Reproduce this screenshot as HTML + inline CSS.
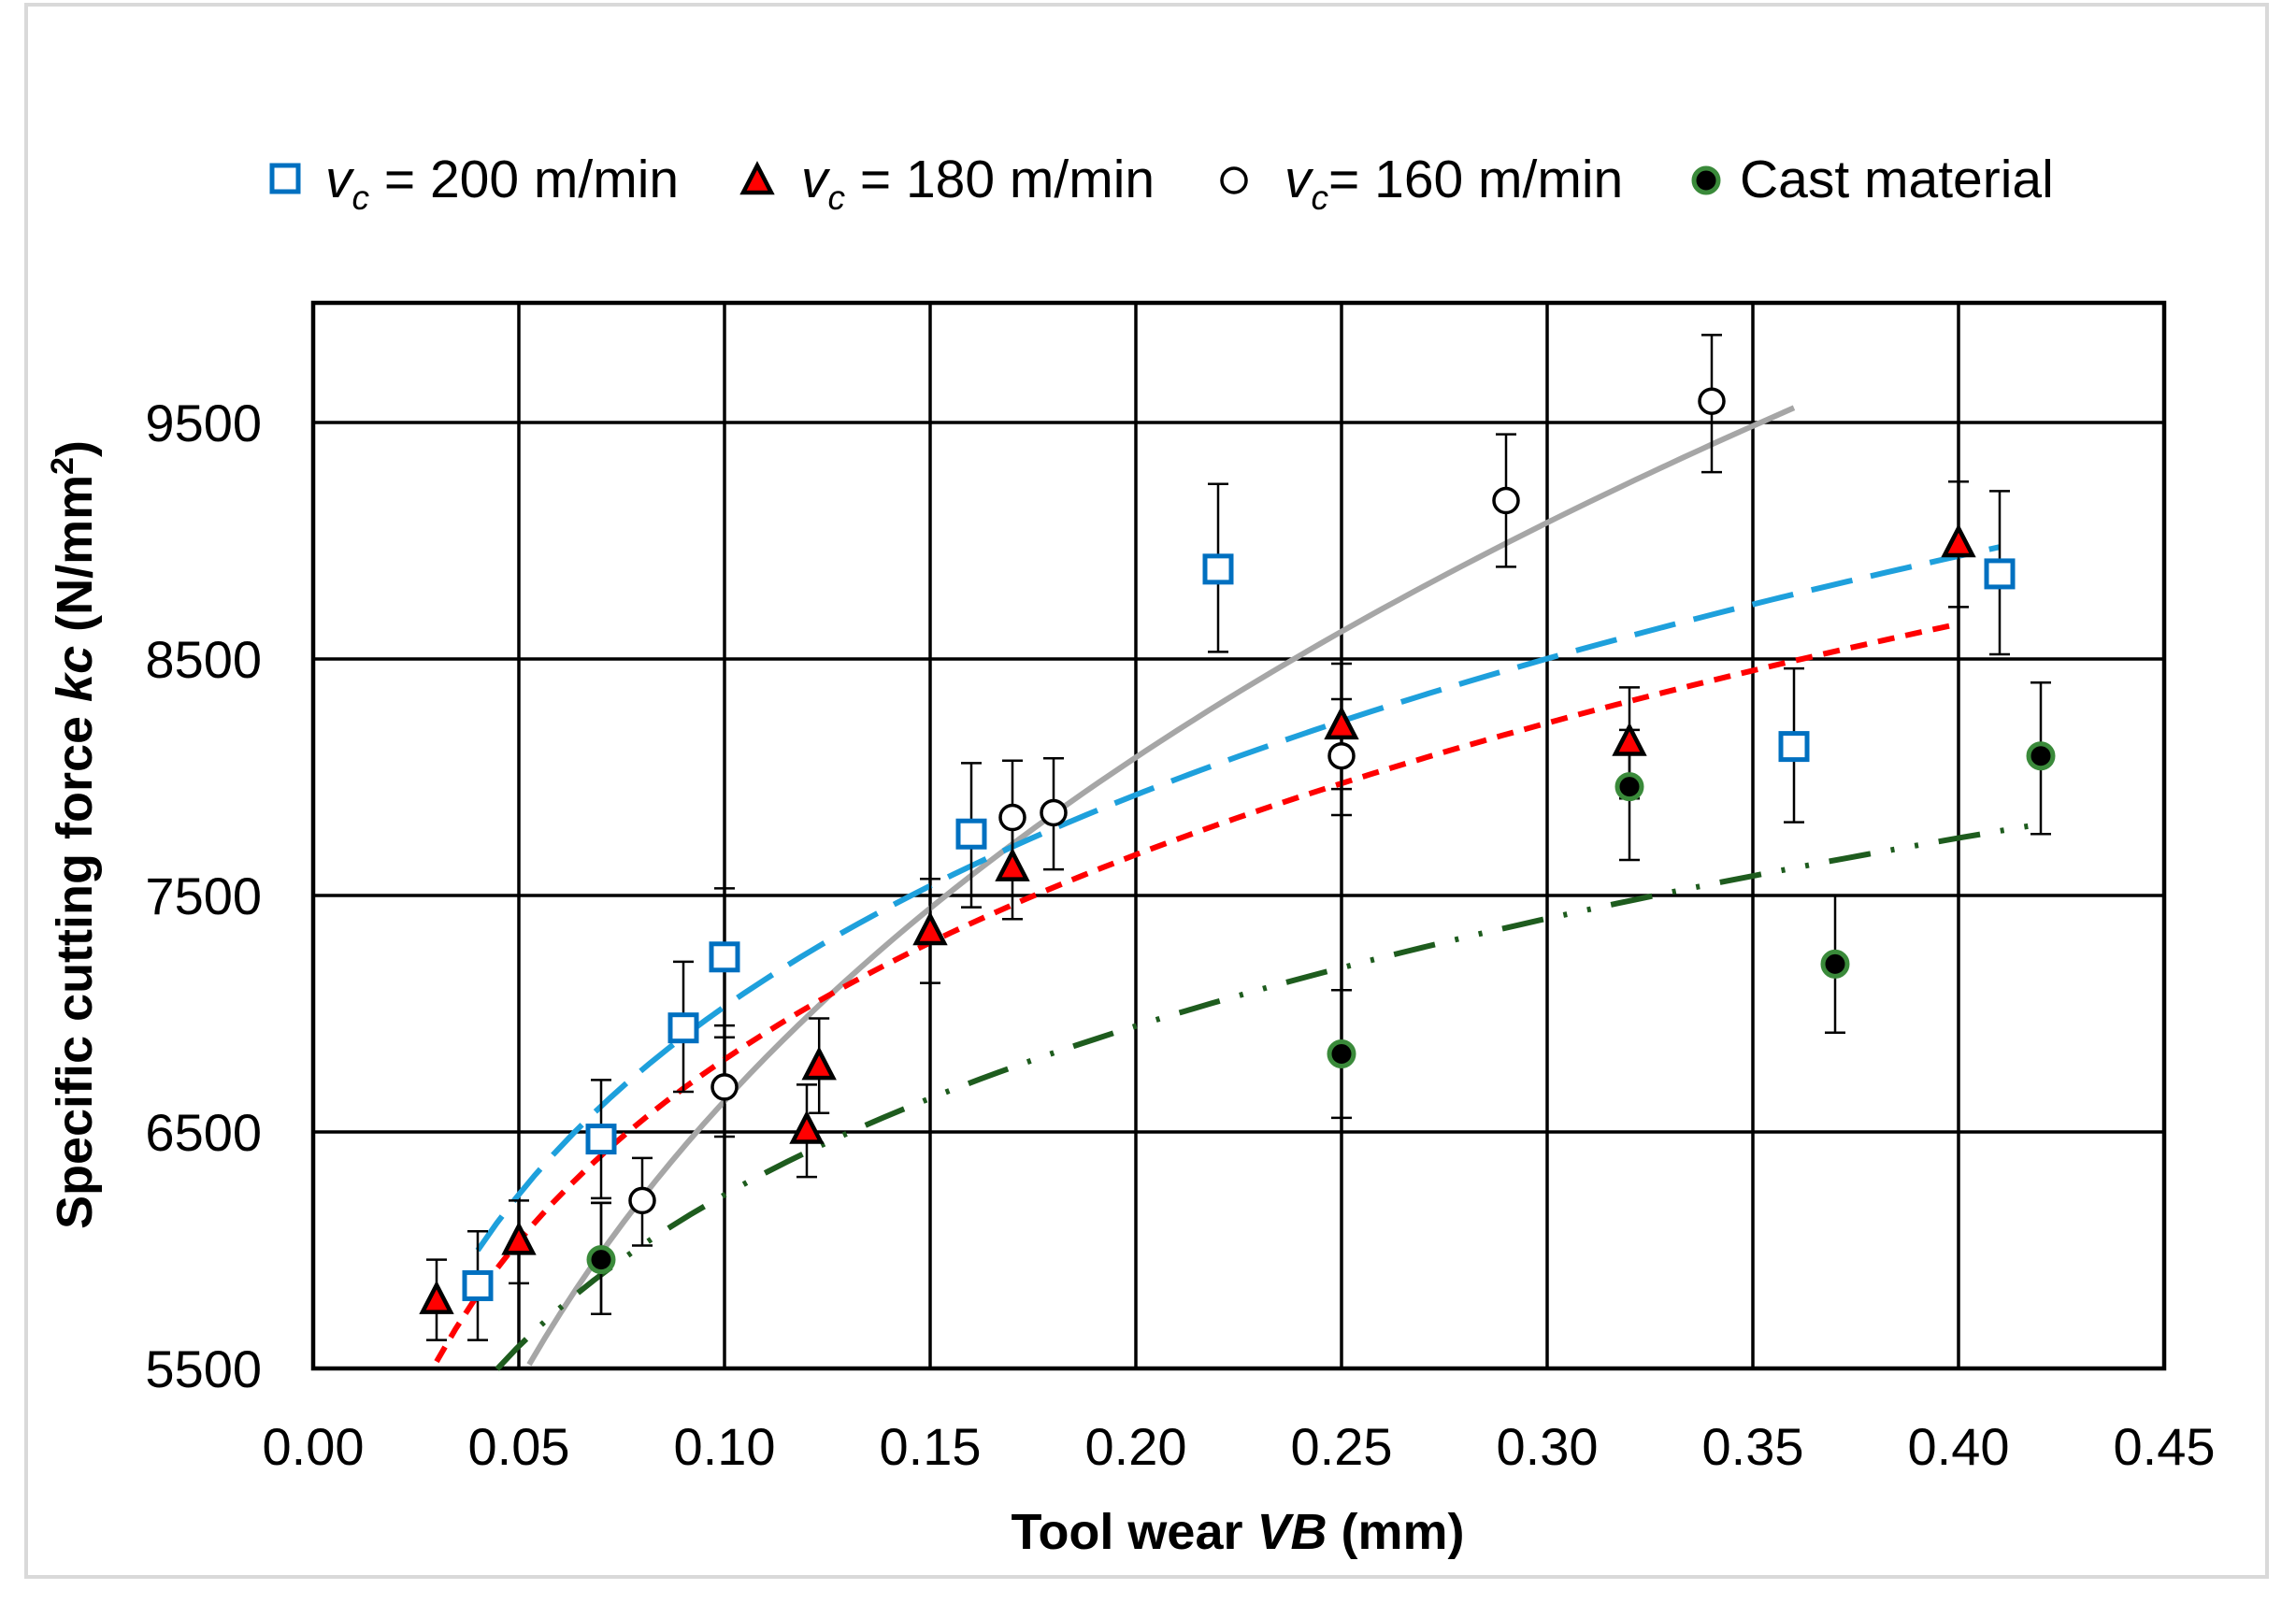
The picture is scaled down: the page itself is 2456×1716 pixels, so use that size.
<!DOCTYPE html>
<html><head><meta charset="utf-8"><style>
body{margin:0;background:#fff}
svg{display:block}
text{font-family:"Liberation Sans",sans-serif}
</style></head><body>
<svg id="s" width="2456" height="1716" xmlns="http://www.w3.org/2000/svg"></svg>
<script>
const s=document.getElementById('s');
const X=v=>335+v/0.45*1980, Y=v=>1464-(v-5500)/1000*253;
let h='';
h+='<rect x="28" y="5" width="2397" height="1682" fill="#fff" stroke="#d9d9d9" stroke-width="4"/>';
for(let i=1;i<9;i++)h+=`<line x1="${X(i*0.05)}" y1="324" x2="${X(i*0.05)}" y2="1464" stroke="#000" stroke-width="3.5"/>`;
for(const v of [6500,7500,8500,9500])h+=`<line x1="335" y1="${Y(v)}" x2="2315" y2="${Y(v)}" stroke="#000" stroke-width="3.5"/>`;
h+='<rect x="335" y="324" width="1980" height="1140" fill="none" stroke="#000" stroke-width="4.5"/>';
for(const v of [5500,6500,7500,8500,9500])h+=`<text x="280" y="${Y(v)+20}" font-size="56" text-anchor="end">${v}</text>`;
for(let i=0;i<10;i++)h+=`<text x="${X(i*0.05)}" y="1567" font-size="56" text-anchor="middle">${(i*0.05).toFixed(2)}</text>`;
h+='<text x="1324" y="1657" font-size="54" font-weight="bold" text-anchor="middle">Tool wear <tspan font-style="italic">VB</tspan>  (mm)</text>';
h+='<text transform="translate(98,893) rotate(-90)" font-size="54" font-weight="bold" text-anchor="middle">Specific cutting force <tspan font-style="italic">kc</tspan> (N/mm<tspan font-size="34" dy="-20">2</tspan><tspan dy="20">)</tspan></text>';
function curve(a,b,x0,x1,col,w,dash){let p='';for(let i=0;i<=80;i++){const x=x0+(x1-x0)*i/80;p+=(i?'L':'M')+X(x).toFixed(1)+','+Y(a*Math.pow(x,b)).toFixed(1);}
h+=`<path d="${p}" fill="none" stroke="${col}" stroke-width="${w}" stroke-dasharray="${dash}"/>`;}
curve(12803,0.2857,0.0525,0.36,'#a6a6a6',6,'');
curve(8935,0.1563,0.0447,0.42,'#1e5c1e',6,'45 22 4 22 4 22');
curve(10470,0.173,0.04,0.41,'#1ea0dc',6,'45 20');
curve(10131,0.1727,0.03,0.40,'#ff0000',6,'18 12');
function eb(x,lo,hi){const px=X(x);h+=`<line x1="${px}" y1="${Y(lo)}" x2="${px}" y2="${Y(hi)}" stroke="#000" stroke-width="2.5"/><line x1="${px-11}" y1="${Y(lo)}" x2="${px+11}" y2="${Y(lo)}" stroke="#000" stroke-width="2.5"/><line x1="${px-11}" y1="${Y(hi)}" x2="${px+11}" y2="${Y(hi)}" stroke="#000" stroke-width="2.5"/>`;}
const blue=[[0.04,5850,5620,6080],[0.07,6470,6220,6720],[0.09,6940,6670,7220],[0.10,7240,6950,7530],[0.16,7760,7450,8060],[0.22,8880,8530,9240],[0.36,8130,7810,8460],[0.41,8860,8520,9210]];
const red=[[0.03,5790,5620,5960],[0.05,6040,5860,6210],[0.12,6510,6310,6700],[0.123,6780,6580,6980],[0.15,7350,7130,7570],[0.17,7620,7400,7840],[0.25,8220,7950,8480],[0.32,8150,7910,8380],[0.40,8990,8720,9250]];
const blk=[[0.07,5960,5730,6200],[0.08,6210,6020,6390],[0.10,6690,6480,6900],[0.17,7830,7590,8070],[0.18,7850,7610,8080],[0.25,8090,7840,8330],[0.29,9170,8890,9450],[0.34,9590,9290,9870]];
const grn=[[0.07,5960,5730,6200],[0.25,6830,6560,7100],[0.32,7960,7650,8200],[0.37,7210,6920,7500],[0.42,8090,7760,8400]];
for(const d of [...blue,...red,...blk,...grn])eb(d[0],d[2],d[3]);
const sq=(x,y)=>`<rect x="${x-14}" y="${y-14}" width="28" height="28" fill="#fff" stroke="#0070c0" stroke-width="5"/>`;
const tri=(x,y)=>`<polygon points="${x},${y-16} ${x-15},${y+13} ${x+15},${y+13}" fill="#ff0000" stroke="#000" stroke-width="4.5"/>`;
const cir=(x,y)=>`<circle cx="${x}" cy="${y}" r="13" fill="#fff" stroke="#000" stroke-width="3.5"/>`;
const gc=(x,y)=>`<circle cx="${x}" cy="${y}" r="13" fill="#000" stroke="#3a8a3a" stroke-width="5"/>`;
for(const d of blk)h+=cir(X(d[0]),Y(d[1]));
for(const d of grn)h+=gc(X(d[0]),Y(d[1]));
for(const d of blue)h+=sq(X(d[0]),Y(d[1]));
for(const d of red)h+=tri(X(d[0]),Y(d[1]));
h+=sq(305,191)+tri(810,193)+cir(1320,193)+gc(1825,193);
const vt=(x,n)=>`<text x="${x}" y="211" font-size="57"><tspan font-style="italic">v</tspan><tspan font-style="italic" font-size="37" dy="13">c</tspan><tspan dy="-13">${n}</tspan></text>`;
h+=vt(348,' = 200 m/min')+vt(857,' = 180 m/min')+vt(1374,'= 160 m/min');
h+='<text x="1861" y="211" font-size="57">Cast material</text>';
s.innerHTML=h;
</script>
</body></html>
